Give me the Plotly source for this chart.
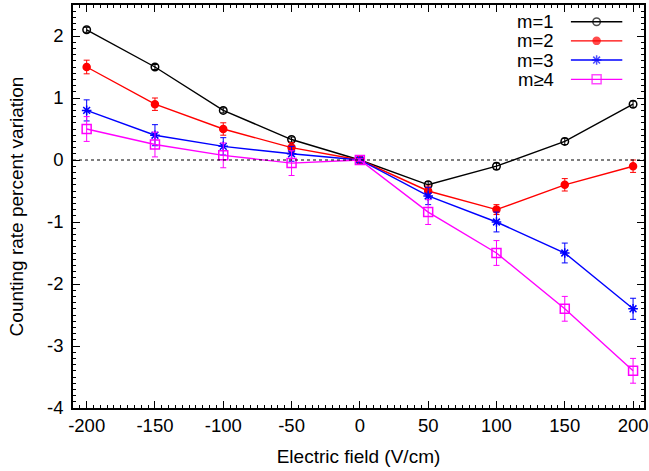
import plotly.graph_objects as go

field = [-200, -150, -100, -50, 0, 50, 100, 150, 200]

m1 = [2.1, 1.5, 0.8, 0.33, 0.0, -0.4, -0.1, 0.3, 0.9]
m1_err = [0.04, 0.04, 0.04, 0.04, 0.02, 0.05, 0.05, 0.05, 0.05]
m2 = [1.5, 0.9, 0.5, 0.2, 0.0, -0.5, -0.8, -0.4, -0.1]
m2_err = [0.11, 0.1, 0.1, 0.08, 0.02, 0.08, 0.08, 0.1, 0.1]
m3 = [0.8, 0.4, 0.22, 0.1, 0.0, -0.58, -1.0, -1.5, -2.4]
m3_err = [0.17, 0.17, 0.14, 0.12, 0.02, 0.14, 0.16, 0.16, 0.17]
m4 = [0.5, 0.25, 0.075, -0.05, 0.0, -0.84, -1.5, -2.4, -3.4]
m4_err = [0.2, 0.2, 0.2, 0.2, 0.02, 0.2, 0.2, 0.2, 0.2]

names = ["m=1", "m=2", "m=3", "m\u22654"]
colors = ["black", "#ff0000", "#0000ff", "#ff00ff"]
symbols = ["circle-open", "circle", "asterisk-open", "square-open"]
sizes = [7.5, 7, 8, 9]
series = [(m1, m1_err), (m2, m2_err), (m3, m3_err), (m4, m4_err)]

FONT = "Liberation Sans, Arial, Helvetica, sans-serif"

fig = go.Figure()
for (vals, errs), name, col, sym, sz in zip(series, names, colors, symbols, sizes):
    fig.add_trace(go.Scatter(
        x=field, y=vals, mode="lines+markers", name=name,
        line=dict(color=col, width=1.4),
        marker=dict(symbol=sym, color=col, size=sz, line=dict(color=col, width=1.5)),
        error_y=dict(type="data", array=errs, visible=True, color=col, thickness=1, width=3),
        showlegend=False,
    ))

# custom gnuplot-style legend (text then sample) on hidden overlay axes
leg_y = [0.9585, 0.911, 0.8634, 0.8155]
for i, (name, col, sym, sz) in enumerate(zip(names, colors, symbols, sizes)):
    fig.add_trace(go.Scatter(
        x=[0.872, 0.917, 0.962], y=[leg_y[i]] * 3, mode="lines+markers",
        xaxis="x2", yaxis="y2",
        line=dict(color=col, width=1.4),
        marker=dict(symbol=sym, color=col, size=[0, sz, 0], line=dict(color=col, width=1.5)),
        showlegend=False, hoverinfo="skip",
    ))
    fig.add_annotation(
        x=0.846, y=leg_y[i], xref="x2", yref="y2", text=name, showarrow=False,
        xanchor="right", yanchor="middle", font=dict(family=FONT, size=18.5, color="black"),
    )

fig.add_shape(type="line", xref="paper", yref="y", x0=0, x1=1, y0=0, y1=0,
              line=dict(color="black", width=1, dash="dot"))

axis_common = dict(
    showgrid=False, zeroline=False, showline=True, linecolor="black", linewidth=1.5,
    mirror="allticks", ticks="inside", ticklen=7, tickcolor="black", tickwidth=1,
    tickfont=dict(family=FONT, size=18.5, color="black"), automargin=False,
)

fig.update_layout(
    width=649, height=471,
    margin=dict(l=73, r=5, t=5, b=63),
    plot_bgcolor="white", paper_bgcolor="white",
    font=dict(family=FONT, size=18.5, color="black"),
    xaxis=dict(range=[-210, 208], tickmode="array", tickvals=field,
               ticktext=[str(v) for v in field],
               title=dict(text="Electric field (V/cm)", font=dict(family=FONT, size=19), standoff=15),
               minor=dict(dtick=5, ticks="inside", ticklen=3.5, tickcolor="black", tickwidth=1),
               **axis_common),
    yaxis=dict(range=[-4, 2.5], tickmode="array", tickvals=[-4, -3, -2, -1, 0, 1, 2],
               ticktext=["-4", "-3", "-2", "-1", "0", "1", "2"],
               title=dict(text="Counting rate percent variation", font=dict(family=FONT, size=19), standoff=18),
               minor=dict(dtick=0.1, ticks="inside", ticklen=3.5, tickcolor="black", tickwidth=1),
               ticklabelstandoff=4,
               **axis_common),
    xaxis2=dict(range=[0, 1], overlaying="x", visible=False, fixedrange=True),
    yaxis2=dict(range=[0, 1], overlaying="y", visible=False, fixedrange=True),
)

fig.write_html("out.html", config={"displayModeBar": False},
               post_script="document.body.style.margin='0';")
